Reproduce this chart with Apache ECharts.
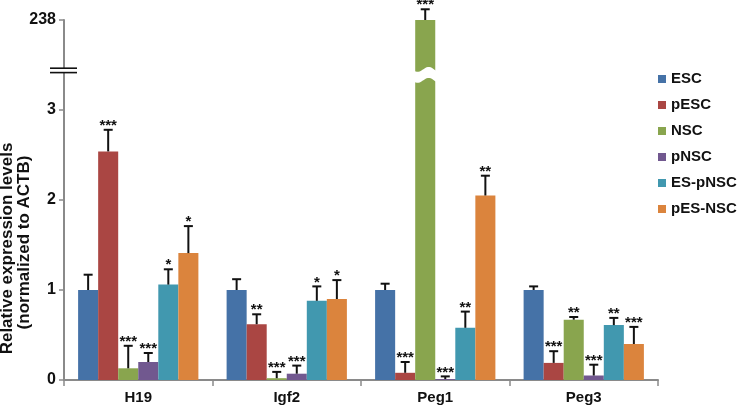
<!DOCTYPE html>
<html>
<head>
<meta charset="utf-8">
<script src="https://cdn.jsdelivr.net/npm/echarts@6/dist/echarts.min.js"></script>
<style>
html,body{margin:0;padding:0;background:#fff;}
#chart{width:740px;height:406px;}
</style>
</head>
<body>
<div id="chart"></div>
<script>
// ---- data ----
const categories = ['H19', 'Igf2', 'Peg1', 'Peg3'];
const seriesNames = ['ESC', 'pESC', 'NSC', 'pNSC', 'ES-pNSC', 'pES-NSC'];
const yTickLabels = ['0', '1', '2', '3', '238'];

const escVals = [1.00, 1.00, 1.00, 1.00];
const escSd = [0.17, 0.12, 0.07, 0.04];
const escSig = ['', '', '', ''];

const pescVals = [2.54, 0.62, 0.08, 0.19];
const pescSd = [0.24, 0.11, 0.12, 0.13];
const pescSig = ['***', '**', '***', '***'];

const nscVals = [0.13, 0.02, 238, 0.67];
const nscSd = [0.25, 0.07, 28, 0.03];
const nscSig = ['***', '***', '***', '**'];

const pnscVals = [0.20, 0.07, 0.01, 0.05];
const pnscSd = [0.10, 0.09, 0.03, 0.12];
const pnscSig = ['***', '***', '***', '***'];

const espnscVals = [1.06, 0.88, 0.58, 0.61];
const espnscSd = [0.17, 0.16, 0.18, 0.08];
const espnscSig = ['*', '*', '**', '**'];

const pesnscVals = [1.41, 0.90, 2.05, 0.40];
const pesnscSd = [0.30, 0.21, 0.22, 0.19];
const pesnscSig = ['*', '*', '**', '***'];

const colors = ['#4572A7', '#AA4643', '#89A54E', '#71588F', '#4198AF', '#DB843D'];

const allVals = [escVals, pescVals, nscVals, pnscVals, espnscVals, pesnscVals];
const allSd = [escSd, pescSd, nscSd, pnscSd, espnscSd, pesnscSd];
const allSig = [escSig, pescSig, nscSig, pnscSig, espnscSig, pesnscSig];

// ---- broken axis mapping: 0..3 linear, 3..238 compressed into one step ----
const breakLow = Number(yTickLabels[3]);
const breakHigh = Number(yTickLabels[4]);
function disp(v) {
  if (v <= breakLow) return v;
  return breakLow + (v - breakLow) / (breakHigh - breakLow);
}

const FONT = 'Liberation Sans, Arial, Helvetica, sans-serif';

function makeRender(k) {
  return function (params, api) {
    const ci = api.value(0);
    const v = api.value(1);
    const sd = api.value(2);
    const base = api.coord([ci, 0]);
    const band = api.size([1, 0])[0];
    const bw = band * 0.81 / 6;
    const x0 = base[0] - 3 * bw + k * bw;
    const yTop = api.coord([ci, disp(v)])[1];
    const yErr = api.coord([ci, disp(v + sd)])[1];
    const cx = x0 + bw / 2;
    const children = [];
    children.push({
      type: 'rect',
      shape: { x: x0, y: yTop, width: bw, height: base[1] - yTop },
      style: { fill: colors[k] }
    });
    if (v > breakLow) {
      const yc = api.coord([ci, 3.39])[1];
      const pts = [];
      const n = 16;
      for (let t = 0; t <= n; t++) {
        const x = x0 - 1 + t * (bw + 2) / n;
        pts.push([x, yc - 5.5 + 2.5 * Math.sin(2 * Math.PI * t / n + 0.6)]);
      }
      for (let t = n; t >= 0; t--) {
        const x = x0 - 1 + t * (bw + 2) / n;
        pts.push([x, yc + 5.5 + 2.5 * Math.sin(2 * Math.PI * t / n + 0.6)]);
      }
      children.push({ type: 'polygon', shape: { points: pts }, style: { fill: '#fff' } });
    }
    children.push({
      type: 'line',
      shape: { x1: cx, y1: yTop, x2: cx, y2: yErr },
      style: { stroke: '#111', lineWidth: 2 }
    });
    children.push({
      type: 'line',
      shape: { x1: cx - 4.5, y1: yErr, x2: cx + 4.5, y2: yErr },
      style: { stroke: '#111', lineWidth: 2 }
    });
    const sig = allSig[k][params.dataIndex];
    if (sig) {
      children.push({
        type: 'text',
        style: {
          text: sig, x: cx, y: yErr - 4,
          align: 'center', verticalAlign: 'middle',
          fill: '#111', font: 'bold 15px ' + FONT
        }
      });
    }
    return { type: 'group', children: children };
  };
}

const series = seriesNames.map(function (name, k) {
  return {
    name: name,
    type: 'custom',
    clip: false,
    itemStyle: { color: colors[k] },
    renderItem: makeRender(k),
    encode: { x: 0, y: 3 },
    data: categories.map(function (c, i) {
      return [i, allVals[k][i], allSd[k][i], disp(allVals[k][i])];
    })
  };
});

// axis break decoration
series.push({
  type: 'custom',
  name: 'axisBreak',
  silent: true,
  clip: false,
  z: 10,
  data: [[0, 3.44]],
  encode: { x: 0, y: 1 },
  renderItem: function (params, api) {
    const band = api.size([1, 0])[0];
    const p = api.coord([0, api.value(1)]);
    const ax = p[0] - band / 2;
    return {
      type: 'group',
      children: [
        { type: 'rect', shape: { x: ax - 3, y: p[1] - 2, width: 6, height: 4 }, style: { fill: '#fff' } },
        { type: 'line', shape: { x1: ax - 14, y1: p[1] - 2.2, x2: ax + 13, y2: p[1] - 2.2 }, style: { stroke: '#111', lineWidth: 1.6 } },
        { type: 'line', shape: { x1: ax - 14, y1: p[1] + 2.2, x2: ax + 13, y2: p[1] + 2.2 }, style: { stroke: '#111', lineWidth: 1.6 } }
      ]
    };
  }
});

const chart = echarts.init(document.getElementById('chart'), null, { renderer: 'canvas' });
chart.setOption({
  animation: false,
  backgroundColor: '#fff',
  grid: { left: 64, right: 82, top: 20, bottom: 26, containLabel: false },
  legend: {
    data: seriesNames,
    orient: 'vertical',
    left: 653,
    top: 66,
    icon: 'rect',
    itemWidth: 8,
    itemHeight: 8,
    itemGap: 10,
    textStyle: { fontFamily: FONT, fontWeight: 'bold', fontSize: 15, color: '#111', lineHeight: 16, padding: [0, 0, 0, 0] },
    selectedMode: false
  },
  xAxis: {
    type: 'category',
    data: categories,
    axisLine: { lineStyle: { color: '#8a8a8a', width: 2 } },
    axisTick: { show: true, length: 6, lineStyle: { color: '#8a8a8a', width: 1.5 } },
    axisLabel: { fontFamily: FONT, fontWeight: 'bold', fontSize: 15, color: '#111', margin: 10 },
    splitLine: { show: false }
  },
  yAxis: {
    type: 'value',
    min: 0,
    max: 4,
    interval: 1,
    axisLine: { show: true, lineStyle: { color: '#8a8a8a', width: 2 } },
    axisTick: { show: true, length: 5, lineStyle: { color: '#8a8a8a', width: 1.5 } },
    axisLabel: {
      fontFamily: FONT, fontWeight: 'bold', fontSize: 16, color: '#111', margin: 8,
      formatter: function (v) { return yTickLabels[Math.round(v)]; }
    },
    splitLine: { show: false }
  },
  graphic: [
    {
      type: 'text', x: 7, y: 248.5, rotation: Math.PI / 2,
      style: { text: 'Relative expression levels', align: 'center', verticalAlign: 'middle', fill: '#111', font: 'bold 17px ' + FONT }
    },
    {
      type: 'text', x: 24, y: 242.5, rotation: Math.PI / 2,
      style: { text: '(normalized to ACTB)', align: 'center', verticalAlign: 'middle', fill: '#111', font: 'bold 17px ' + FONT }
    }
  ],
  series: series
});
</script>
</body>
</html>
